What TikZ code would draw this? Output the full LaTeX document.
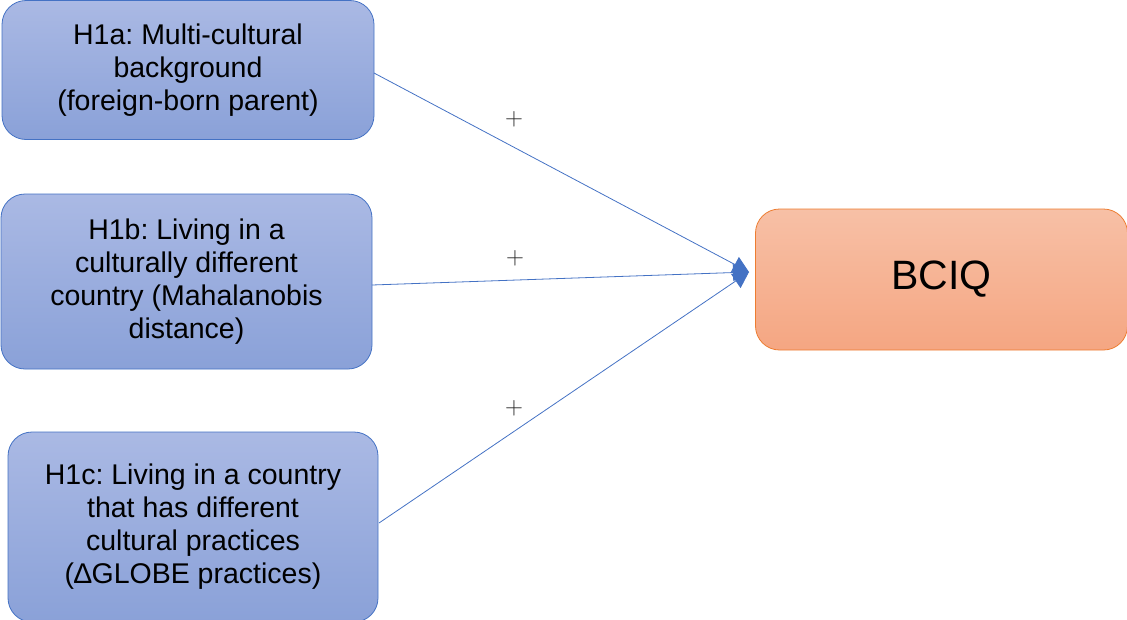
\documentclass[tikz,border=0pt]{standalone}
\usepackage{fontspec}
\setmainfont{Liberation Sans}
\usetikzlibrary{arrows.meta}
\definecolor{bluetop}{RGB}{170,185,228}
\definecolor{bluebot}{RGB}{138,161,216}
\definecolor{blueedge}{RGB}{68,114,196}
\definecolor{orangetop}{RGB}{247,192,166}
\definecolor{orangebot}{RGB}{245,166,130}
\definecolor{orangeedge}{RGB}{237,125,49}
\tikzset{
  hbox/.style={draw=blueedge, line width=0.8pt, rounded corners=24pt, top color=bluetop, bottom color=bluebot,
    align=center, font=\fontsize{28.5}{33}\selectfont\frenchspacing, inner sep=0pt},
  obox/.style={draw=orangeedge, line width=0.8pt, rounded corners=24pt, top color=orangetop, bottom color=orangebot,
    align=center, font=\fontsize{41}{46}\selectfont, inner sep=0pt},
  link/.style={draw=blueedge, line width=0.8pt},
  tip/.style={-{Triangle[width=17pt,length=16pt]}},
  plus/.style={font=\fontsize{24}{24}\selectfont, text=black!85}
}
\begin{document}
\begin{tikzpicture}[x=1pt,y=-1pt]
\useasboundingbox (0,0) rectangle (1127,619);
\node[hbox, minimum width=372pt, minimum height=139pt] (a) at (188,70) {H1a: Multi-cultural\\background\\(foreign-born parent)};
\node[hbox, minimum width=371pt, minimum height=175pt] (b) at (186.5,281.5) {H1b: Living in a\\culturally different\\country (Mahalanobis\\distance)};
\node[hbox, minimum width=370pt, minimum height=190pt] (c) at (193,527) {H1c: Living in a country\\that has different\\cultural practices\\(∆GLOBE practices)};
\node[obox, minimum width=372pt, minimum height=141pt] (q) at (941.5,279.5) {BCIQ};
\coordinate (t) at (749,272);
\coordinate (as) at (374,73);
\coordinate (bs) at (372,285);
\coordinate (cs) at (379,523);
\draw[link, tip] (as) -- (t);
\draw[link, tip] (bs) -- (t);
\draw[link, tip] (cs) -- (t);
\node[plus] (p1) at (514,119) {$+$};
\node[plus] (p2) at (515,258) {$+$};
\node[plus] (p3) at (514,408) {$+$};
\end{tikzpicture}
\end{document}
